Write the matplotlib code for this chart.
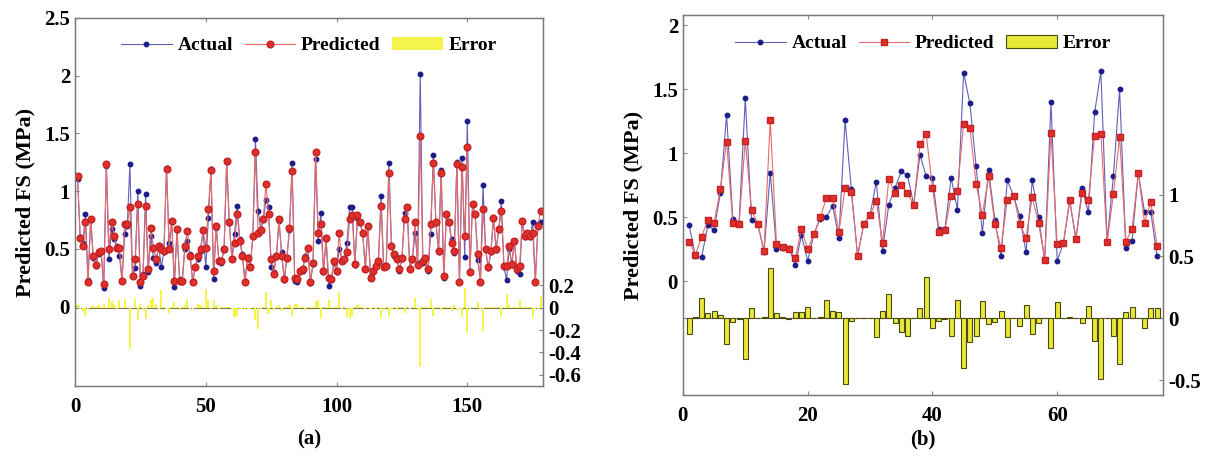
import matplotlib.pyplot as plt
from matplotlib.patches import Patch
from matplotlib.lines import Line2D
import numpy as np

# ---- panel (a) data: 178 samples ----
a_actual = [
    1.10, 0.60, 0.55, 0.80, 0.23, 0.75, 0.42, 0.35, 0.45, 0.47,
    0.16, 1.22, 0.41, 0.67, 0.58, 0.52, 0.44, 0.22, 0.63, 0.70,
    1.23, 0.26, 0.33, 1.00, 0.18, 0.28, 0.97, 0.30, 0.61, 0.42,
    0.38, 0.53, 0.34, 0.47, 1.20, 0.55, 0.73, 0.17, 0.66, 0.24,
    0.21, 0.50, 0.57, 0.45, 0.22, 0.34, 0.41, 0.48, 0.65, 0.34,
    0.77, 1.19, 0.24, 0.68, 0.40, 0.38, 0.49, 1.25, 0.72, 0.42,
    0.63, 0.87, 0.58, 0.45, 0.22, 0.43, 0.35, 0.60, 1.45, 0.83,
    0.67, 0.75, 0.92, 0.86, 0.34, 0.30, 0.43, 0.74, 0.47, 0.23,
    0.41, 0.66, 1.24, 0.22, 0.21, 0.30, 0.31, 0.44, 0.50, 0.20,
    0.37, 1.28, 0.57, 0.81, 0.30, 0.58, 0.18, 0.23, 0.38, 0.30,
    0.50, 0.40, 0.40, 0.55, 0.86, 0.86, 0.36, 0.77, 0.72, 0.63,
    0.33, 0.69, 0.26, 0.30, 0.36, 0.38, 0.96, 0.36, 0.34, 1.24,
    0.53, 0.44, 0.43, 0.31, 0.41, 0.81, 0.85, 0.33, 0.40, 0.64,
    0.38, 2.01, 0.38, 0.41, 0.31, 0.63, 1.31, 0.72, 0.47, 1.18,
    0.25, 0.79, 0.72, 0.58, 0.46, 1.25, 0.22, 1.29, 0.43, 1.61,
    0.31, 0.89, 0.79, 0.40, 0.22, 1.05, 0.49, 0.33, 0.47, 0.76,
    0.49, 0.66, 0.91, 0.34, 0.23, 0.50, 0.36, 0.56, 0.31, 0.28,
    0.73, 0.60, 0.63, 0.60, 0.73, 0.22, 0.71, 0.73,
]
a_predicted = [
    1.13, 0.59, 0.52, 0.73, 0.21, 0.76, 0.44, 0.36, 0.47, 0.48,
    0.19, 1.23, 0.50, 0.73, 0.61, 0.51, 0.51, 0.22, 0.71, 0.71,
    0.86, 0.26, 0.41, 0.89, 0.21, 0.26, 0.87, 0.32, 0.68, 0.51,
    0.41, 0.52, 0.50, 0.48, 1.19, 0.50, 0.74, 0.22, 0.67, 0.22,
    0.22, 0.52, 0.65, 0.44, 0.21, 0.34, 0.44, 0.50, 0.66, 0.51,
    0.84, 1.18, 0.31, 0.70, 0.39, 0.39, 0.50, 1.26, 0.73, 0.41,
    0.55, 0.80, 0.57, 0.44, 0.21, 0.42, 0.34, 0.61, 1.34, 0.64,
    0.66, 0.76, 1.06, 0.80, 0.41, 0.28, 0.44, 0.76, 0.44, 0.24,
    0.42, 0.68, 1.17, 0.25, 0.24, 0.31, 0.32, 0.42, 0.51, 0.21,
    0.38, 1.34, 0.64, 0.71, 0.31, 0.59, 0.25, 0.24, 0.39, 0.31,
    0.64, 0.39, 0.41, 0.47, 0.76, 0.79, 0.37, 0.79, 0.73, 0.64,
    0.32, 0.70, 0.25, 0.31, 0.35, 0.39, 0.87, 0.34, 0.35, 1.16,
    0.52, 0.45, 0.41, 0.32, 0.42, 0.76, 0.86, 0.32, 0.41, 0.73,
    0.36, 1.48, 0.39, 0.42, 0.32, 0.71, 1.24, 0.73, 0.48, 1.16,
    0.26, 0.80, 0.73, 0.55, 0.48, 1.23, 0.21, 1.21, 0.61, 1.38,
    0.30, 0.89, 0.80, 0.45, 0.21, 0.84, 0.50, 0.34, 0.48, 0.77,
    0.50, 0.67, 0.83, 0.35, 0.35, 0.52, 0.37, 0.57, 0.32, 0.35,
    0.74, 0.61, 0.64, 0.61, 0.64, 0.21, 0.70, 0.83,
]

# ---- panel (b) data: 76 samples ----
b_actual = [
    0.44, 0.20, 0.19, 0.44, 0.40, 0.69, 1.30, 0.49, 0.46, 1.43,
    0.48, 0.45, 0.23, 0.85, 0.25, 0.26, 0.26, 0.13, 0.36, 0.16,
    0.37, 0.49, 0.505, 0.59, 0.34, 1.26, 0.72, 0.20, 0.45, 0.52,
    0.78, 0.24, 0.60, 0.73, 0.86, 0.83, 0.60, 0.99, 0.82, 0.81,
    0.41, 0.41, 0.81, 0.56, 1.63, 1.39, 0.90, 0.38, 0.87, 0.48,
    0.20, 0.79, 0.67, 0.51, 0.23, 0.79, 0.50, 0.17, 1.40, 0.16,
    0.30, 0.63, 0.33, 0.73, 0.54, 1.32, 1.64, 0.31, 0.82, 1.50,
    0.26, 0.32, 0.85, 0.54, 0.54, 0.20,
]
b_predicted = [
    0.31, 0.21, 0.35, 0.48, 0.46, 0.72, 1.09, 0.46, 0.45, 1.10,
    0.56, 0.45, 0.24, 1.26, 0.29, 0.27, 0.25, 0.18, 0.41, 0.25,
    0.37, 0.50, 0.65, 0.65, 0.39, 0.73, 0.70, 0.20, 0.45, 0.52,
    0.63, 0.30, 0.80, 0.69, 0.75, 0.69, 0.60, 1.07, 1.15, 0.73,
    0.39, 0.40, 0.67, 0.71, 1.23, 1.20, 0.76, 0.52, 0.82, 0.45,
    0.26, 0.64, 0.67, 0.45, 0.34, 0.66, 0.46, 0.17, 1.16, 0.29,
    0.30, 0.64, 0.33, 0.69, 0.64, 1.14, 1.15, 0.31, 0.68, 1.13,
    0.31, 0.41, 0.85, 0.46, 0.62, 0.28,
]

plt.rcParams['font.family'] = ['Liberation Serif', 'DejaVu Serif']
plt.rcParams['font.weight'] = 'bold'
plt.rcParams['axes.labelweight'] = 'bold'

blue_line = '#6060b8'
blue_mark = '#1c1c8a'
red_line = '#e66a6a'
red_mark = '#e0302c'


def draw_panel(fig, rect, actual, predicted, xlim, xticks, ylim_l, yticks_l,
               ylim_r, yticks_r, edge, pmark, caption):
    ax = fig.add_axes(rect)
    idx = np.arange(1, len(actual) + 1)
    actual = np.array(actual)
    predicted = np.array(predicted)
    error = predicted - actual

    ax.plot(idx, actual, '-', color=blue_line, lw=0.8, marker='o', ms=3.2,
            mfc=blue_mark, mec=blue_mark, zorder=3)
    ax.plot(idx, predicted, '-', color=red_line, lw=0.8, marker=pmark, ms=4.8,
            mfc=red_mark, mec='#c42222', zorder=4)
    ax.set_xlim(*xlim)
    ax.set_ylim(*ylim_l)
    ax.set_xticks(xticks)
    ax.set_yticks(yticks_l)
    ax.set_yticklabels([('%g' % t) for t in yticks_l])
    ax.set_ylabel('Predicted FS (MPa)', fontsize=16, fontweight='bold',
                  labelpad=6)
    ax.tick_params(direction='in', labelsize=15, top=True, length=3,
                   color='#888888')
    ax.tick_params(axis='x', pad=8)
    for s in ax.spines.values():
        s.set_color('#777777')
        s.set_linewidth(0.9)

    ax2 = ax.twinx()
    if edge:
        ax2.bar(idx, error, width=0.8, color='#e8e838', edgecolor='#4a4a10',
                linewidth=0.8, zorder=2)
    else:
        ax2.bar(idx, error, width=0.8, color='#f4f44a', edgecolor='none',
                zorder=2)
    ax2.axhline(0, color='#7a7a50', lw=0.8, zorder=1)
    ax2.set_ylim(*ylim_r)
    ax2.set_yticks(yticks_r)
    ax2.set_yticklabels([('%g' % t) for t in yticks_r])
    ax2.tick_params(direction='in', labelsize=15, length=3, color='#888888')
    for s in ax2.spines.values():
        s.set_color('#777777')
        s.set_linewidth(0.9)

    handles = [
        Line2D([], [], color=blue_line, lw=0.8, marker='o', ms=3.2,
               mfc=blue_mark, mec=blue_mark),
        Line2D([], [], color=red_line, lw=0.8, marker=pmark, ms=4.8,
               mfc=red_mark, mec='#c42222'),
        Patch(facecolor='#f4f44a' if not edge else '#e8e838',
              edgecolor='#4a4a10' if edge else 'none', lw=0.8),
    ]
    ax2.legend(handles, ['Actual', 'Predicted', 'Error'], loc='center',
               bbox_to_anchor=(0.5, 0.925), ncol=3, frameon=False,
               handlelength=2.6, handletextpad=0.3, columnspacing=0.6,
               prop={'weight': 'bold', 'size': 14})

    fig.text(rect[0] + rect[2] / 2, 0.07, caption, ha='center', va='center',
             fontsize=15, fontweight='bold')
    return ax, ax2


fig = plt.figure(figsize=(12.13, 4.73), dpi=100)

draw_panel(fig, [0.0618, 0.184, 0.386, 0.778], a_actual, a_predicted,
           (0, 179), [0, 50, 100, 150], (-0.69, 2.5),
           [0, 0.5, 1, 1.5, 2, 2.5], (-0.70, 2.59),
           [-0.6, -0.4, -0.2, 0, 0.2], False, 'o', '(a)')

draw_panel(fig, [0.563, 0.165, 0.396, 0.803], b_actual, b_predicted,
           (0, 77), [0, 20, 40, 60], (-0.886, 2.08),
           [0, 0.5, 1, 1.5, 2], (-0.62, 2.45),
           [-0.5, 0, 0.5, 1], True, 's', '(b)')

fig.savefig('out.png', dpi=100)
